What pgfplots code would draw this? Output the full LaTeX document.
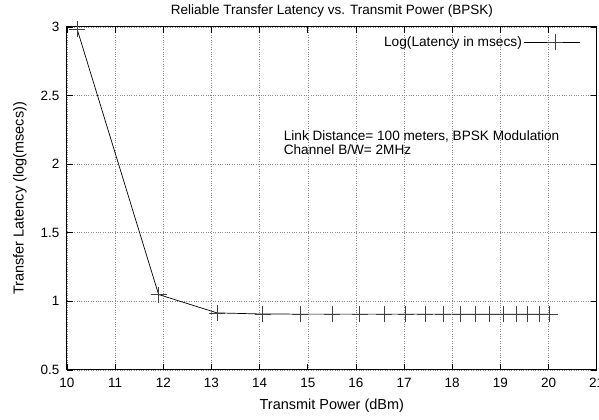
\documentclass[border=0pt]{standalone}
\usepackage{fontspec}
\setmainfont{Liberation Sans}
\usepackage{pgfplots}
\pgfplotsset{compat=1.18}

\begin{document}
\begin{tikzpicture}
\begin{axis}[
    scale only axis,
    width=530bp, height=343bp,
    xmin=10, xmax=21,
    ymin=0.5, ymax=3,
    xtick={10,11,...,21},
    ytick={0.5,1,1.5,2,2.5,3},
    /pgf/number format/assume math mode=true,
    tick label style={font=\fontsize{13.5bp}{16bp}\selectfont},
    tick align=inside,
    xtick pos=both, ytick pos=both,
    major tick length=6bp,
    tick style={black, line width=0.6bp},
    axis line style={black, line width=1bp},
    grid=major,
    grid style={dotted, gray!90, line width=0.5bp},
    yticklabel style={xshift=-4bp},
    xticklabel style={yshift=-4.5bp},
    every axis title shift=0pt,
    title={Reliable Transfer Latency vs. Transmit Power (BPSK)},
    title style={at={(axis description cs:0.5,1.048)}, anchor=center, inner sep=0pt,
        font=\fontsize{13.5bp}{16bp}\selectfont},
    xlabel={Transmit Power (dBm)},
    xlabel style={at={(axis description cs:0.5,-0.105)}, anchor=center, inner sep=0pt,
        font=\fontsize{14.5bp}{17bp}\selectfont},
    ylabel={Transfer Latency (log(msecs))},
    ylabel style={at={(axis description cs:-0.0887,0.5)}, anchor=center, inner sep=0pt,
        font=\fontsize{14.5bp}{17bp}\selectfont},
    legend style={draw=none, fill=none, at={(axis description cs:1,1)}, anchor=north east,
        xshift=-13bp, yshift=-5bp, legend cell align=right,
        font=\fontsize{13.7bp}{16bp}\selectfont},
    legend plot pos=right,
    legend image code/.code={
        \path (0bp,0bp) -- (56bp,0bp);
        \draw[mark repeat=2, mark phase=2, #1] plot coordinates {(6bp,0bp) (31bp,0bp) (56bp,0bp)};
    },
]
\addplot[black, line width=0.7bp, mark=+, mark size=8bp, mark options={line width=0.6bp, black!75}]
coordinates {
(10.212,2.983) (11.903,1.049) (13.118,0.915) (14.065,0.907) (14.843,0.906)
(15.502,0.906) (16.075,0.906) (16.580,0.906) (17.033,0.906) (17.443,0.906)
(17.818,0.906) (18.162,0.906) (18.482,0.906) (18.780,0.906) (19.058,0.906)
(19.320,0.906) (19.567,0.906) (19.800,0.906) (20.022,0.906)
};
\addlegendentry{Log(Latency in msecs)}
\node[anchor=west, inner sep=0pt, font=\fontsize{13.6bp}{16bp}\selectfont] at (axis cs:14.5,2.20) {Link Distance= 100 meters, BPSK Modulation};
\node[anchor=west, inner sep=0pt, font=\fontsize{13.6bp}{16bp}\selectfont] at (axis cs:14.5,2.109) {Channel B/W= 2MHz};
\end{axis}
\pgfresetboundingbox
\path[use as bounding box] ([xshift=-67bp,yshift=-50bp]current axis.south west) rectangle ([xshift=2.3bp,yshift=27bp]current axis.north east);
\end{tikzpicture}
\end{document}
